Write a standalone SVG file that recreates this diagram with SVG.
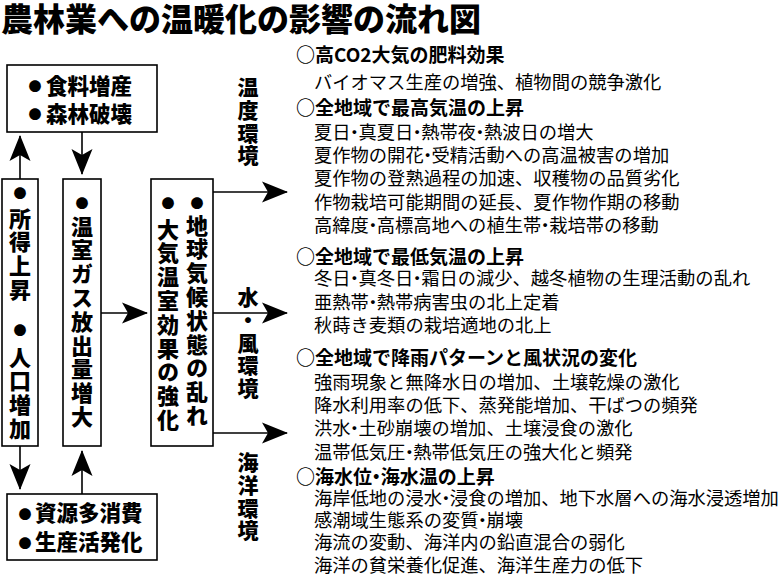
<svg xmlns="http://www.w3.org/2000/svg" width="783" height="580" viewBox="0 0 783 580">
<defs>
<style>
text{font-family:"Noto Sans CJK JP","Noto Sans CJK SC",sans-serif;fill:#000}
.title{font-size:32px;font-weight:900}
.box{fill:#fff;stroke:#000;stroke-width:1.6}
.bt{font-size:21.5px;font-weight:900}
.bl{font-size:13px}
.vt{font-size:22px;font-weight:900;writing-mode:vertical-rl;text-orientation:upright;letter-spacing:1.8px}
.lab{font-size:21px;font-weight:900;writing-mode:vertical-rl;text-orientation:upright;letter-spacing:1.6px}
.h{font-size:19px;font-weight:700}
.b{font-size:18.3px;font-weight:400}
.c{stroke:#000;stroke-width:1.6;fill:none;marker-end:url(#ah)}
</style>
<marker id="ah" markerUnits="userSpaceOnUse" markerWidth="28" markerHeight="24" viewBox="-26 -12 28 24" refX="0" refY="0" orient="auto">
<path d="M1,0 L-25,-10.5 L-19,0 L-25,10.5 Z" fill="#000"/>
</marker>
</defs>
<rect width="783" height="580" fill="#fff"/>
<text class="title" x="1" y="31">農林業への温暖化の影響の流れ図</text>

<g id="connectors">
<path class="c" d="M20,179 L20,136"/>
<path class="c" d="M82,132 L82,174"/>
<path class="c" d="M20,446 L20,489"/>
<path class="c" d="M82,494 L82,451"/>
<path class="c" d="M101,313 L147,313"/>
<path class="c" d="M213,192 L287,192"/>
<path class="c" d="M213,313 L287,313"/>
<path class="c" d="M213,433 L287,433"/>
</g>

<g id="node-food">
<rect class="box" x="7" y="65" width="150" height="67"/>
<text class="bt" y="94"><tspan class="bl" x="28.5" dy="-3">●</tspan><tspan x="46" dy="3">食料増産</tspan></text>
<text class="bt" y="122"><tspan class="bl" x="28.5" dy="-3">●</tspan><tspan x="46" dy="3">森林破壊</tspan></text>
</g>

<g id="node-income">
<rect class="box" x="2" y="179" width="36" height="267"/>
<text class="vt" x="20"><tspan class="bl" y="186.5">●</tspan><tspan y="207">所得上昇</tspan></text>
<text class="vt" x="20"><tspan class="bl" y="323.5">●</tspan><tspan y="346">人口増加</tspan></text>
</g>

<g id="node-ghg">
<rect class="box" x="63" y="179" width="38" height="267"/>
<text class="vt" x="82"><tspan class="bl" y="196.5">●</tspan><tspan y="215">温室ガス放出量増大</tspan></text>
</g>

<g id="node-climate">
<rect class="box" x="151" y="179" width="62" height="267"/>
<text class="vt" x="197"><tspan class="bl" y="196.5">●</tspan><tspan y="214">地球気候状態の乱れ</tspan></text>
<text class="vt" x="168"><tspan class="bl" y="196.5">●</tspan><tspan y="218">大気温室効果の強化</tspan></text>
</g>

<g id="node-resource">
<rect class="box" x="7" y="494" width="150" height="66"/>
<text class="bt" y="521"><tspan class="bl" x="18.5" dy="-2">●</tspan><tspan x="35" dy="2">資源多消費</tspan></text>
<text class="bt" y="550"><tspan class="bl" x="18.5" dy="-2">●</tspan><tspan x="35" dy="2">生産活発化</tspan></text>
</g>

<g id="labels">
<text class="lab" x="248" y="77">温度環境</text>
<text class="lab" x="248" y="287">水・風環境</text>
<text class="lab" x="248" y="452">海洋環境</text>
</g>

<g id="effects">
<text class="h" x="296" y="62">○高CO2大気の肥料効果</text>
<text class="b" x="314" y="89">バイオマス生産の増強、植物間の競争激化</text>
<text class="h" x="296" y="115">○全地域で最高気温の上昇</text>
<text class="b" x="314" y="139">夏日<tspan dx="-5.2 -5.2">・真</tspan>夏日<tspan dx="-5.2 -5.2">・熱</tspan>帯夜<tspan dx="-5.2 -5.2">・熱</tspan>波日の増大</text>
<text class="b" x="314" y="162">夏作物の開花<tspan dx="-5.2 -5.2">・受</tspan>精活動への高温被害の増加</text>
<text class="b" x="314" y="185">夏作物の登熟過程の加速、収穫物の品質劣化</text>
<text class="b" x="314" y="209">作物栽培可能期間の延長、夏作物作期の移動</text>
<text class="b" x="314" y="232">高緯度<tspan dx="-5.2 -5.2">・高</tspan>標高地への植生帯<tspan dx="-5.2 -5.2">・栽</tspan>培帯の移動</text>
<text class="h" x="296" y="264">○全地域で最低気温の上昇</text>
<text class="b" x="314" y="285">冬日<tspan dx="-5.2 -5.2">・真</tspan>冬日<tspan dx="-5.2 -5.2">・霜</tspan>日の減少、越冬植物の生理活動の乱れ</text>
<text class="b" x="314" y="309">亜熱帯<tspan dx="-5.2 -5.2">・熱</tspan>帯病害虫の北上定着</text>
<text class="b" x="314" y="332">秋蒔き麦類の栽培適地の北上</text>
<text class="h" x="296" y="365">○全地域で降雨パターンと風状況の変化</text>
<text class="b" x="314" y="389">強雨現象と無降水日の増加、土壌乾燥の激化</text>
<text class="b" x="314" y="412">降水利用率の低下、蒸発能増加、干ばつの頻発</text>
<text class="b" x="314" y="435">洪水<tspan dx="-5.2 -5.2">・土</tspan>砂崩壊の増加、土壌浸食の激化</text>
<text class="b" x="314" y="459">温帯低気圧<tspan dx="-5.2 -5.2">・熱</tspan>帯低気圧の強大化と頻発</text>
<text class="h" x="296" y="484">○海水位<tspan dx="-5.2 -5.2">・海</tspan>水温の上昇</text>
<text class="b" x="314" y="505">海岸低地の浸水<tspan dx="-5.2 -5.2">・浸</tspan>食の増加、地下水層への海水浸透増加</text>
<text class="b" x="314" y="527">感潮域生態系の変質<tspan dx="-5.2 -5.2">・崩</tspan>壊</text>
<text class="b" x="314" y="549">海流の変動、海洋内の鉛直混合の弱化</text>
<text class="b" x="314" y="572">海洋の貧栄養化促進、海洋生産力の低下</text>
</g>
</svg>
